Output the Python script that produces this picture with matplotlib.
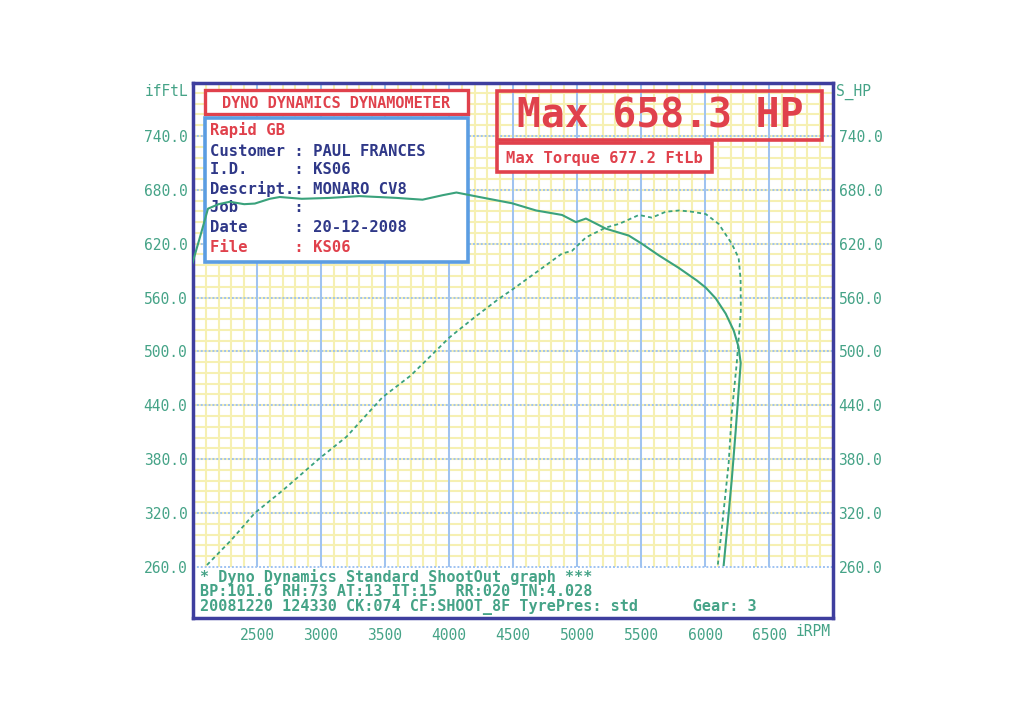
import numpy as np
import matplotlib
matplotlib.use("Agg")
import matplotlib.pyplot as plt
from matplotlib.patches import Rectangle

W, H = 1023, 724

# torque (solid) and power (dashed)
torque_rpm = [1995, 2060, 2117, 2200, 2288, 2400, 2483, 2600, 2678, 2850,
              3068, 3300, 3590, 3793, 3950, 4058, 4237, 4493, 4680, 4883,
              4992, 5070, 5226, 5405, 5506, 5639, 5795, 5936, 6006, 6084,
              6162, 6225, 6262, 6279, 6263, 6240, 6209, 6185, 6146]
torque_ftlb = [598, 630, 659, 664, 666.7, 664, 664.7, 670, 672, 670,
               671, 673, 671, 669, 674, 677, 672, 665, 657, 652,
               644, 648, 636.7, 629, 620, 607, 593, 579, 571, 559,
               542, 523, 505, 487, 457, 412, 357, 320, 262]

power_rpm = [2109, 2300, 2483, 2700, 2990, 3200, 3481, 3700, 3886, 4003,
             4200, 4393, 4486, 4700, 4883, 4961, 5070, 5226, 5328, 5484,
             5585, 5694, 5800, 5897, 6006, 6107, 6209, 6263, 6278, 6280,
             6268, 6248, 6209, 6185, 6130, 6100]
power_hp = [262, 290, 320, 345, 381, 405, 449, 473, 499, 515.5,
            538, 559, 568, 590, 609, 612, 627, 638, 642, 652,
            649, 655.6, 657, 655.6, 653, 642, 620, 604, 580, 545,
            523, 487, 431, 375.6, 301, 262]

rpm_ticks = [2500, 3000, 3500, 4000, 4500, 5000, 5500, 6000, 6500]
value_ticks = [260, 320, 380, 440, 500, 560, 620, 680, 740]

title_text = "DYNO DYNAMICS DYNAMOMETER"
max_hp_text = "Max 658.3 HP"
max_torque_text = "Max Torque 677.2 FtLb"
info_lines = [
    ("Rapid GB", None),
    ("Customer", "PAUL FRANCES"),
    ("I.D.", "KS06"),
    ("Descript.", "MONARO CV8"),
    ("Job", ""),
    ("Date", "20-12-2008"),
    ("File", "KS06"),
]
footer_lines = [
    "* Dyno Dynamics Standard ShootOut graph ***",
    "BP:101.6 RH:73 AT:13 IT:15  RR:020 TN:4.028",
    "20081220 124330 CK:074 CF:SHOOT_8F TyrePres: std      Gear: 3",
]

RED = "#e0414c"
TEAL = "#45a387"
NAVY = "#2f3888"
BOXBLUE = "#5b9de2"
FRAME = "#3e3e9e"
GRID_MAJOR = "#9ec2f2"
GRID_MINOR = "#f6f0b2"
CURVE = "#3aa27c"
MONO = "DejaVu Sans Mono"


def fxy(px, py):
    """Pixel position (from top-left) to figure fraction."""
    return px / W, 1 - py / H


fig = plt.figure(figsize=(W / 100, H / 100), dpi=100)
x0, y1 = fxy(193, 83)
x1, y0 = fxy(833, 618)
ax = fig.add_axes([x0, y0, x1 - x0, y1 - y0])
ax.set_xlim(2000, 7000)
ax.set_ylim(203, 799)

# graph paper: pale yellow minor, light blue major, only above the 260 line
ax.vlines(np.arange(2100, 7000, 100), 260, 799, color=GRID_MINOR, lw=1.5,
          zorder=0)
ax.hlines(np.arange(272, 799, 12), 2000, 7000, color=GRID_MINOR, lw=1.5,
          zorder=0)
ax.vlines(rpm_ticks, 260, 799, color=GRID_MAJOR, lw=1.4, zorder=1)
ax.hlines(value_ticks, 2000, 7000, color=GRID_MAJOR, lw=1.4,
          linestyles=(0, (1, 1)), zorder=1)

for spine in ax.spines.values():
    spine.set_color(FRAME)
    spine.set_linewidth(2.5)

ax.set_xticks(rpm_ticks, [str(t) for t in rpm_ticks])
ax.set_yticks(value_ticks, [f"{v:.1f}" for v in value_ticks])
ax.tick_params(length=0, colors=TEAL, labelsize=10.5, pad=5,
               labelright=True)
for lab in ax.get_xticklabels() + ax.get_yticklabels():
    lab.set_family(MONO)
ax.tick_params(axis="x", pad=7)
ax.tick_params(axis="y", which="both", pad=4)

fig.text(*fxy(188, 92), "ifFtL", ha="right", va="center", color=TEAL,
         family=MONO, fontsize=10.5)
fig.text(*fxy(836, 92), "S_HP", ha="left", va="center", color=TEAL,
         family=MONO, fontsize=10.5)
fig.text(*fxy(796, 632), "iRPM", ha="left", va="center", color=TEAL,
         family=MONO, fontsize=10.5)


def box(px0, py0, px1, py1, color, lw, fill):
    bx, by = fxy(px0, py1)
    rect = Rectangle((bx, by), (px1 - px0) / W, (py1 - py0) / H,
                     transform=fig.transFigure, facecolor=fill,
                     edgecolor=color, lw=lw, zorder=3, clip_on=False)
    ax.add_patch(rect)


# title and info panel
box(205, 90, 468, 114, RED, 2.4, "white")
ax.text(*fxy(336, 103), title_text, transform=fig.transFigure, ha="center",
        va="center", color=RED, family=MONO, fontsize=11, fontweight="bold",
        zorder=4)
box(205, 118, 468, 262, BOXBLUE, 2.6, "white")
line_y = [130, 151, 170, 189, 208, 227, 248]
for (label, value), py in zip(info_lines, line_y):
    colour = RED if label in ("Rapid GB", "File") else NAVY
    txt = label if value is None else f"{label:<9}: {value}"
    ax.text(*fxy(210, py), txt, transform=fig.transFigure, ha="left",
            va="center", color=colour, family=MONO, fontsize=11.2,
            fontweight="bold", zorder=4)

# max boxes
box(497, 91, 822, 140, RED, 2.6, "none")
ax.text(*fxy(660, 116), max_hp_text, transform=fig.transFigure,
        ha="center", va="center", color=RED, family=MONO, fontsize=28.5,
        fontweight="bold", zorder=4)
box(497, 143, 712, 172, RED, 2.6, "white")
ax.text(*fxy(506, 158), max_torque_text, transform=fig.transFigure,
        ha="left", va="center", color=RED, family=MONO, fontsize=11.2,
        fontweight="bold", zorder=4)

# footer text in the white strip
for txt, py in zip(footer_lines, [577, 592, 607]):
    ax.text(*fxy(200, py), txt, transform=fig.transFigure, ha="left",
            va="center", color=TEAL, family=MONO, fontsize=10.9,
            fontweight="bold", zorder=4)

ax.plot(torque_rpm, torque_ftlb, color=CURVE, lw=1.5, zorder=5)
ax.plot(power_rpm, power_hp, color=CURVE, lw=1.3, ls=(0, (2.2, 1.8)),
        zorder=5)

fig.savefig("out.png", dpi=100)
